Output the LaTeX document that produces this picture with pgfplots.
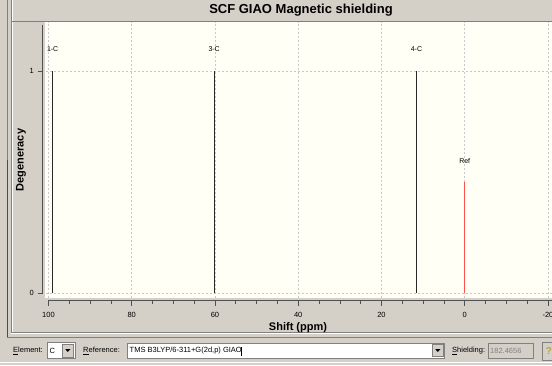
\documentclass[border=0pt]{standalone}
\usepackage{fontspec}
\setmainfont{Liberation Sans}
\usepackage{pgfplots}
\pgfplotsset{compat=1.18}
\definecolor{winbg}{RGB}{212,208,200}
\definecolor{cream}{RGB}{255,255,245}
\definecolor{gridc}{RGB}{200,200,200}
\definecolor{refred}{RGB}{255,80,80}
\definecolor{linec}{RGB}{40,40,40}
\definecolor{axc}{RGB}{80,80,80}
\definecolor{edgec}{RGB}{128,128,128}
\newcommand{\panelfont}{\fontsize{7.5}{9}\selectfont}
\begin{document}
\begin{tikzpicture}
\path[use as bounding box] (0pt,0pt) rectangle (552pt,365pt);
\fill[winbg] (0pt,0pt) rectangle (552pt,365pt);
\clip (0pt,0pt) rectangle (552pt,365pt);
\begin{scope}[x=1pt,y=1pt]
% window frame lines
\draw[edgec, line width=1pt] (7,365) -- (7,27);
\draw[black!70, line width=1pt] (7,205) -- (7,27);
\draw[edgec, line width=0.8pt] (11,365) -- (11,33);
\draw[white, line width=0.6pt] (12,365) -- (12,33.5);
\draw[edgec, line width=0.8pt] (11,33) -- (552,33);
\draw[white, line width=0.6pt] (11,32) -- (552,32);
\draw[edgec, line width=0.8pt] (7,27.5) -- (552,27.5);
\draw[white, line width=0.6pt] (0,3) -- (552,3);
% title bar
\draw[edgec, line width=0.8pt] (12,344) -- (552,344);
\node[font=\bfseries\fontsize{13}{15}\selectfont] at (301,354.5) {SCF GIAO Magnetic shielding};
\end{scope}
% main plot
\begin{axis}[
  at={(45pt,67pt)}, anchor=south west, scale only axis,
  width=507pt, height=276.3pt,
  x dir=reverse, xmin=-20.96, xmax=100.84, ymin=-0.021, ymax=1.222,
  axis line style={draw=none},
  xtick={100,80,60,40,20,0,-20}, ytick={0,1},
  xticklabels={}, yticklabels={},
  major tick length=0pt,
  grid=major,
  major grid style={gridc, dash pattern=on 2pt off 2pt, line width=0.6pt},
  axis background/.style={fill=cream},
  clip=false,
]
\addplot[ycomb, linec, line width=1pt, mark=none,
  point meta=explicit symbolic, nodes near coords,
  nodes near coords style={font=\fontsize{7}{8}\selectfont, text=black, anchor=center, yshift=22pt}]
  table[meta=label] {
x y label
99.0 1 1-C
60.2 1 3-C
11.6 1 4-C
};
\addplot[ycomb, refred, line width=1pt, mark=none,
  point meta=explicit symbolic, nodes near coords,
  nodes near coords style={font=\fontsize{7}{8}\selectfont, text=black, anchor=center, yshift=21pt}]
  table[meta=label] {
x y label
0 0.5 Ref
};
\end{axis}
% x axis
\begin{axis}[
  at={(48.5pt,64.5pt)}, anchor=south west, scale only axis,
  width=503.5pt, height=10pt,
  x dir=reverse, xmin=-20.96, xmax=100, ymin=0, ymax=1,
  axis x line*=bottom, axis y line=none,
  axis line style={axc, line width=0.8pt},
  xtick={100,80,60,40,20,0,-20}, minor x tick num=3,
  tick align=outside, major tick length=5pt, minor tick length=3pt,
  tick style={axc, line width=0.7pt},
  xticklabel style={font=\fontsize{7.5}{8}\selectfont, anchor=center, yshift=-9pt},
  /pgf/number format/assume math mode=true,
]
\end{axis}
% y axis
\begin{axis}[
  at={(42.7pt,71.7pt)}, anchor=south west, scale only axis,
  width=10pt, height=268.3pt,
  xmin=0, xmax=1, ymin=0, ymax=1.207,
  axis y line*=left, axis x line=none,
  axis line style={axc, line width=0.8pt},
  ytick={0,1},
  tick align=outside, major tick length=5pt,
  tick style={axc, line width=0.7pt},
  yticklabel style={font=\fontsize{7.5}{8}\selectfont, anchor=center, xshift=-6pt},
  /pgf/number format/assume math mode=true,
]
\end{axis}
\begin{scope}[x=1pt,y=1pt]
\node[font=\bfseries\fontsize{11}{12}\selectfont] at (298,37.5) {Shift (ppm)};
\node[rotate=90, font=\bfseries\fontsize{11}{12}\selectfont] at (21,205) {Degeneracy};
% bottom panel
\node[anchor=west, font=\panelfont, inner sep=0pt] at (13,14) {\underline{E}lement:};
\draw[edgec, fill=white] (47,6.5) rectangle (75,22.5);
\node[anchor=west, font=\panelfont, inner sep=0pt] at (49.5,14) {C};
\draw[edgec, fill=winbg] (62,8) rectangle (73.5,21);
\fill[black] (65.3,15.8) -- (70.3,15.8) -- (67.8,13) -- cycle;
\node[anchor=west, font=\panelfont, inner sep=0pt] at (83,14) {\underline{R}eference:};
\draw[edgec, fill=white] (127,7) rectangle (444,22);
\node[anchor=west, font=\panelfont, inner sep=0pt] at (129.5,14) {TMS B3LYP/6-311+G(2d,p) GIAO};
\draw[black, line width=0.5pt] (241.5,9.5) -- (241.5,18.5);
\draw[edgec, fill=winbg] (432.5,8.5) rectangle (443,20.5);
\fill[black] (435.3,15.8) -- (440.3,15.8) -- (437.8,13) -- cycle;
\node[anchor=west, font=\panelfont, inner sep=0pt] at (452,14) {\underline{S}hielding:};
\draw[edgec, fill=winbg] (488,7) rectangle (533,22);
\node[anchor=west, font=\panelfont, text=edgec, inner sep=0pt] at (490,14) {182.4656};
\draw[edgec, fill=winbg] (542,5) rectangle (560,23);
\node[font=\bfseries\fontsize{10}{11}\selectfont, text={rgb,255:red,200;green,160;blue,40}] at (549,14) {?};
\end{scope}
\end{tikzpicture}
\end{document}
